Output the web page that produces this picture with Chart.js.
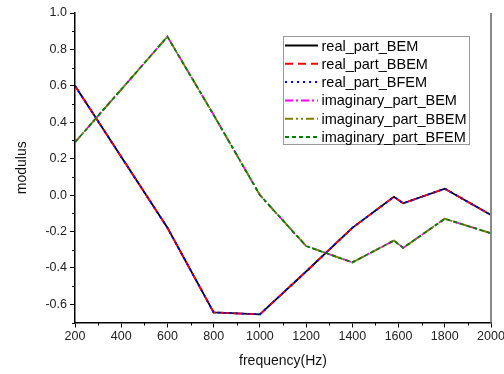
<!DOCTYPE html>
<html>
<head>
<meta charset="utf-8">
<script src="https://cdn.jsdelivr.net/npm/chart.js@4/dist/chart.umd.min.js"></script>
<style>
  html, body { margin: 0; padding: 0; background: #fff; }
  #wrap { width: 504px; height: 374px; }
</style>
</head>
<body>
<div id="wrap"><canvas id="modChart" width="504" height="374"></canvas></div>
<script>
// frequencies (Hz) where the curves were sampled
var freqs = [200, 600, 800, 1000, 1200, 1400, 1580, 1620, 1800, 2000];

// real part, three methods (they overlap almost exactly)
var realBEM  = [0.60, -0.18, -0.645, -0.655, -0.42, -0.18, -0.01, -0.045, 0.035, -0.11];
var realBBEM = [0.60, -0.18, -0.645, -0.655, -0.42, -0.18, -0.01, -0.045, 0.035, -0.11];
var realBFEM = [0.60, -0.18, -0.645, -0.655, -0.42, -0.18, -0.01, -0.045, 0.035, -0.11];

// imaginary part, three methods
var imagBEM  = [0.29, 0.87, 0.44, 0.00, -0.28, -0.37, -0.25, -0.29, -0.13, -0.21];
var imagBBEM = [0.29, 0.87, 0.44, 0.00, -0.28, -0.37, -0.25, -0.29, -0.13, -0.21];
var imagBFEM = [0.29, 0.87, 0.44, 0.00, -0.28, -0.37, -0.25, -0.29, -0.13, -0.21];

var seriesNames = ["real_part_BEM", "real_part_BBEM", "real_part_BFEM",
                   "imaginary_part_BEM", "imaginary_part_BBEM", "imaginary_part_BFEM"];

var xTicks = [200, 400, 600, 800, 1000, 1200, 1400, 1600, 1800, 2000];

function toPoints(vals) {
  return vals.map(function(v, i) { return { x: freqs[i], y: v }; });
}

var fontFam = "'Liberation Sans', Arial, sans-serif";

function makeSet(i, vals, color, dash) {
  return {
    label: seriesNames[i],
    data: toPoints(vals),
    borderColor: color,
    borderDash: dash,
    borderWidth: 1.8,
    pointRadius: 0,
    fill: false,
    tension: 0,
    order: 10 - i   // later series are painted on top
  };
}

// draws minor ticks, the grey right border and the boxed legend
var extrasPlugin = {
  id: "extras",
  afterDraw: function(chart) {
    var ctx = chart.ctx;
    var xs = chart.scales.x, ys = chart.scales.y;
    var area = chart.chartArea;
    ctx.save();
    // minor ticks
    ctx.strokeStyle = "#000";
    ctx.lineWidth = 1;
    ctx.beginPath();
    for (var f = 300; f < 2000; f += 200) {
      var px = Math.round(xs.getPixelForValue(f)) + 0.5;
      ctx.moveTo(px, area.bottom);
      ctx.lineTo(px, area.bottom + 3);
    }
    for (var v = -0.7; v < 1.0; v += 0.2) {
      var py = Math.round(ys.getPixelForValue(v)) + 0.5;
      ctx.moveTo(area.left, py);
      ctx.lineTo(area.left - 3, py);
    }
    ctx.stroke();
    // right border
    ctx.strokeStyle = "#888";
    ctx.lineWidth = 2;
    ctx.beginPath();
    ctx.moveTo(area.right, area.top);
    ctx.lineTo(area.right, area.bottom);
    ctx.stroke();

    // legend box
    var bx = 283.5, by = 36.5, bw = 186, bh = 108;
    ctx.fillStyle = "#fff";
    ctx.fillRect(bx, by, bw, bh);
    ctx.strokeStyle = "#999";
    ctx.lineWidth = 1;
    ctx.strokeRect(bx, by, bw, bh);
    ctx.font = "14.5px " + fontFam;
    ctx.textBaseline = "middle";
    ctx.fillStyle = "#000";
    chart.data.datasets.forEach(function(ds, i) {
      var yy = 45.5 + i * 18.3;
      ctx.save();
      ctx.strokeStyle = ds.borderColor;
      ctx.lineWidth = 2;
      ctx.setLineDash(ds.borderDash || []);
      ctx.beginPath();
      ctx.moveTo(285, yy);
      ctx.lineTo(318, yy);
      ctx.stroke();
      ctx.restore();
      ctx.fillText(ds.label, 321.5, yy + 1);
    });
    ctx.restore();
  }
};

var ctx = document.getElementById("modChart").getContext("2d");
var modChart = new Chart(ctx, {
  type: "line",
  data: {
    datasets: [
      makeSet(0, realBEM, "#000000", []),
      makeSet(1, realBBEM, "#ff0000", [8, 5]),
      makeSet(2, realBFEM, "#0000ff", [2, 4]),
      makeSet(3, imagBEM, "#ff00ff", [8, 3, 2, 3]),
      makeSet(4, imagBBEM, "#808000", [8, 3, 2, 3, 2, 3]),
      makeSet(5, imagBFEM, "#008000", [4, 3])
    ]
  },
  options: {
    responsive: false,
    animation: false,
    layout: { padding: { left: 10, top: 13, right: 0, bottom: 0 } },
    plugins: {
      legend: { display: false },
      tooltip: { enabled: false }
    },
    scales: {
      x: {
        type: "linear",
        min: 200,
        max: 2000,
        afterBuildTicks: function(scale) {
          scale.ticks = xTicks.map(function(v) { return { value: v }; });
        },
        afterFit: function(scale) {
          scale.height = 51.5;
          scale.paddingRight = 13;
        },
        border: { display: true, color: "#000", width: 1.5 },
        grid: { drawOnChartArea: false, drawTicks: true, tickLength: 5, color: "#000" },
        ticks: {
          color: "#222",
          font: { family: fontFam, size: 12.5 },
          padding: 2,
          maxRotation: 0,
          callback: function(v) { return String(v); }
        },
        title: {
          display: true,
          text: "frequency(Hz)",
          color: "#111",
          font: { family: fontFam, size: 14 },
          padding: { top: 4 }
        }
      },
      y: {
        type: "linear",
        min: -0.7,
        max: 1.0,
        afterBuildTicks: function(scale) {
          var t = [];
          for (var v = -0.6; v <= 1.0001; v += 0.2) t.push({ value: Math.round(v * 10) / 10 });
          scale.ticks = t;
        },
        afterFit: function(scale) { scale.width = 65; },
        border: { display: true, color: "#000", width: 1.5 },
        grid: { drawOnChartArea: false, drawTicks: true, tickLength: 5, color: "#000" },
        ticks: {
          color: "#222",
          font: { family: fontFam, size: 12.5 },
          padding: 3,
          callback: function(v) { return v.toFixed(1); }
        },
        title: {
          display: true,
          text: "modulus",
          color: "#111",
          font: { family: fontFam, size: 14 },
          padding: { bottom: 6 }
        }
      }
    }
  },
  plugins: [extrasPlugin]
});
</script>
</body>
</html>
